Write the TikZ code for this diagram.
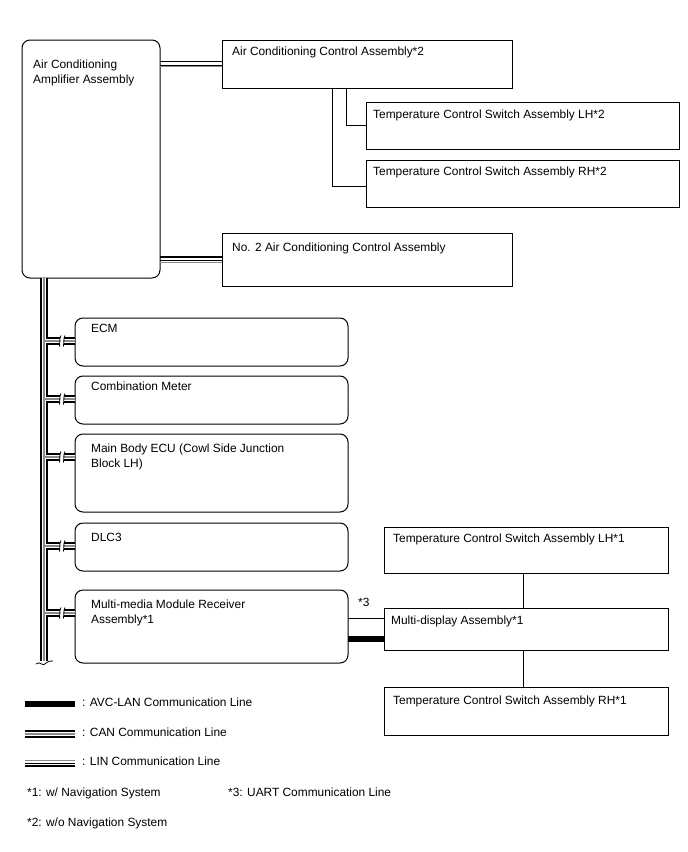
\documentclass[tikz,border=0pt]{standalone}
\usepackage{fontspec}
\setmainfont{Liberation Sans}
\begin{document}
\begin{tikzpicture}[x=1pt,y=-1pt,
  box/.style={draw=black, line width=1pt, inner sep=0pt, outer sep=0pt, anchor=north west},
  rbox/.style={box, rounded corners=8pt},
  txt/.style={anchor=base west, inner sep=0pt, font=\fontsize{11.9}{14}\selectfont},
  conn/.style={draw=black, line width=1pt},
  canA/.style={draw=black, line width=7.5pt},
  canB/.style={draw=white, line width=4.6pt},
  canC/.style={draw=black!45, line width=1.4pt},
  linA/.style={draw=black, line width=1.4pt},
  linB/.style={draw=black, line width=1pt},
  linC/.style={draw=black!45, line width=1pt},
  avc/.style={draw=black, line width=6pt},
  brk/.style={draw=black, line width=0.8pt}
]
\useasboundingbox[fill=white] (0,0) rectangle (688,852);

% boxes
\node[rbox, minimum width=138pt, minimum height=238pt] (amp) at (22,40) {};
\node[box, minimum width=290pt, minimum height=48pt] (acc) at (222,40) {};
\node[box, minimum width=313pt, minimum height=47pt] (tlh2) at (366,102) {};
\node[box, minimum width=313pt, minimum height=47pt] (trh2) at (366,160) {};
\node[box, minimum width=290pt, minimum height=53pt] (no2) at (222,233) {};
\node[rbox, minimum width=273pt, minimum height=48pt] (ecm) at (75,318) {};
\node[rbox, minimum width=273pt, minimum height=48pt] (cm) at (75,376) {};
\node[rbox, minimum width=273pt, minimum height=78pt] (mb) at (75,434) {};
\node[rbox, minimum width=273pt, minimum height=48pt] (dlc) at (75,523) {};
\node[rbox, minimum width=273pt, minimum height=73pt] (mm) at (75,590) {};
\node[box, minimum width=284pt, minimum height=46pt] (tlh1) at (384,527) {};
\node[box, minimum width=284pt, minimum height=42pt] (md) at (384,608) {};
\node[box, minimum width=284pt, minimum height=48pt] (trh1) at (384,687) {};

% texts
\node[txt] (t1) at (33,68) {Air Conditioning};
\node[txt] (t2) at (33,83) {Amplifier Assembly};
\node[txt] (t3) at (232,55) {Air Conditioning Control Assembly*2};
\node[txt] (t4) at (373,118) {Temperature Control Switch Assembly LH*2};
\node[txt] (t5) at (373,175) {Temperature Control Switch Assembly RH*2};
\node[txt] (t6) at (232,251) {No. 2 Air Conditioning Control Assembly};
\node[txt] (t7) at (91,332) {ECM};
\node[txt] (t8) at (91,390) {Combination Meter};
\node[txt] (t9) at (91,452) {Main Body ECU (Cowl Side Junction};
\node[txt] (t10) at (91,467) {Block LH)};
\node[txt] (t11) at (91,541) {DLC3};
\node[txt] (t12) at (91,608) {Multi-media Module Receiver};
\node[txt] (t13) at (91,623) {Assembly*1};
\node[txt] (t14) at (393,542) {Temperature Control Switch Assembly LH*1};
\node[txt] (t15) at (391,624) {Multi-display Assembly*1};
\node[txt] (t16) at (393,704) {Temperature Control Switch Assembly RH*1};
\node[txt] (t17) at (358,606) {*3};

% thin connectors
\draw[conn] (acc.south west) ++(124,0) |- (tlh2.west);
\draw[conn] (acc.south west) ++(110,0) |- ([yshift=-3pt]trh2.west);
\draw[conn] (tlh1.south -| 523,0) -- (md.north -| 523,0);
\draw[conn] (md.south -| 523,0) -- (trh1.north -| 523,0);
\draw[conn] (mm.east |- 0,618) -- (md.west |- 0,618);
\draw[avc] (mm.east |- 0,639) -- (md.west |- 0,639);

% LIN lines
\foreach \tgt in {acc,no2}{
  \draw[linA] ([yshift=2.5pt]amp.east |- \tgt.west) -- ([yshift=2.5pt]\tgt.west);
  \draw[linB] ([yshift=-1pt]amp.east |- \tgt.west) -- ([yshift=-1pt]\tgt.west);
  \draw[linC] ([yshift=-2.6pt]amp.east |- \tgt.west) -- ([yshift=-2.6pt]\tgt.west);
}

% CAN bus
\coordinate (bustop) at ([xshift=22pt,yshift=0.5pt]amp.south west);
\coordinate (busend) at (44,662);
\foreach \st in {canA,canB,canC}{
  \draw[\st] (bustop) -- (busend);
  \foreach \b in {ecm,cm,mb,dlc,mm}{
    \draw[\st] ([yshift=-23pt]\b.north west) -- ([yshift=-23pt]\b.north west -| bustop);
  }
}
% wavy end of bus
\fill[white] (36,661) rectangle (53,668);
\draw[brk] (36,664) .. controls (40,660) and (43,668) .. (46,663) .. controls (48,660) and (50,662) .. (53,661);
% break marks
\foreach \b in {ecm,cm,mb,dlc,mm}{
  \path ([yshift=-23pt]\b.north west -| 62,0) coordinate (k);
  \fill[white] ([xshift=-2pt,yshift=5pt]k) rectangle ([xshift=2pt,yshift=-5pt]k);
  \draw[brk] ([xshift=-1pt,yshift=5.5pt]k) .. controls ([xshift=-3.5pt,yshift=1pt]k) and ([xshift=-1pt,yshift=-2pt]k) .. ([xshift=-2.5pt,yshift=-5.5pt]k);
  \draw[brk] ([xshift=3pt,yshift=5.5pt]k) .. controls ([xshift=0.5pt,yshift=1pt]k) and ([xshift=3pt,yshift=-2pt]k) .. ([xshift=1.5pt,yshift=-5.5pt]k);
}

% legend
\coordinate (la1) at (25,704); \coordinate (la2) at (75,704);
\draw[avc] (la1) -- (la2);
\coordinate (lc1) at (25,734); \coordinate (lc2) at (75,734);
\foreach \st in {canA,canB,canC}{ \draw[\st] (lc1) -- (lc2); }
\coordinate (ll1) at (25,763); \coordinate (ll2) at (75,763);
\draw[linC] ([yshift=2.5pt]ll1) -- ([yshift=2.5pt]ll2);
\draw[linB] ([yshift=-0.2pt]ll1) -- ([yshift=-0.2pt]ll2);
\draw[linA] ([yshift=-2.8pt]ll1) -- ([yshift=-2.8pt]ll2);
\node[txt] (l1) at (82,706) {: AVC-LAN Communication Line};
\node[txt] (l2) at (82,736) {: CAN Communication Line};
\node[txt] (l3) at (82,765) {: LIN Communication Line};
\node[txt] (n1) at (27,796) {*1: w/ Navigation System};
\node[txt] (n3) at (228,796) {*3: UART Communication Line};
\node[txt] (n2) at (27,826) {*2: w/o Navigation System};
\end{tikzpicture}
\end{document}
